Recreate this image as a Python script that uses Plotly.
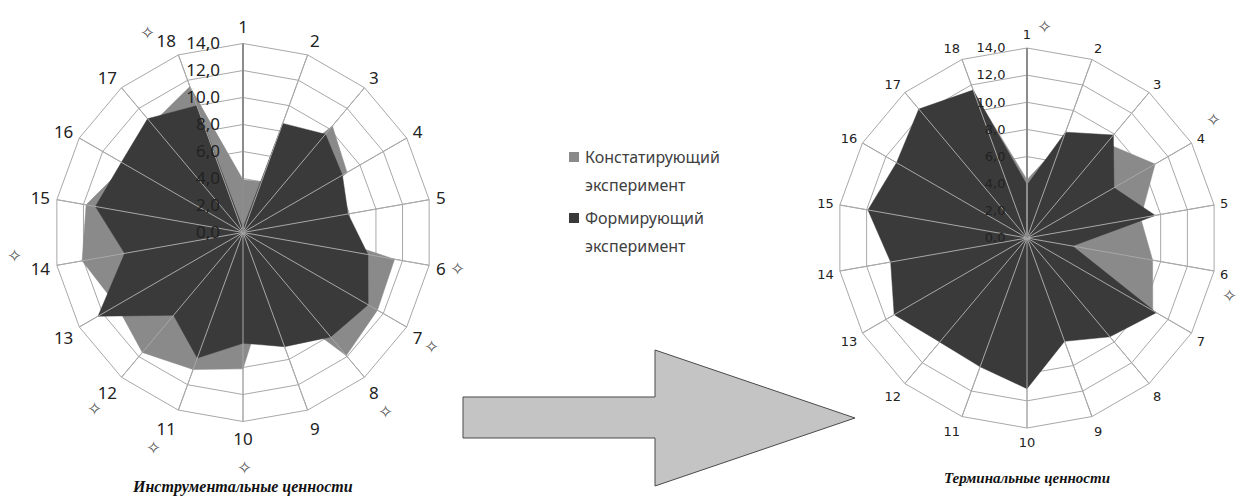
import plotly.graph_objects as go

W, H = 1238, 497

categories = [str(i) for i in range(1, 19)]
instr_const = [3.9, 4.0, 10.3, 8.9, 3.5, 11.4, 11.5, 11.9, 5.0, 10.1, 10.8, 11.6, 10.8, 12.1, 11.8, 10.0, 10.5, 11.5]
instr_form = [0.3, 8.6, 9.5, 8.5, 7.9, 9.4, 10.7, 10.1, 9.0, 8.2, 9.9, 8.0, 12.4, 8.9, 11.1, 10.4, 11.0, 10.0]
term_const = [4.3, 7.5, 9.1, 10.9, 8.5, 9.4, 10.7, 9.0, 7.5, 9.5, 9.0, 9.0, 10.0, 9.5, 11.0, 10.5, 11.5, 11.3]
term_form = [3.9, 8.3, 9.9, 7.4, 9.6, 3.4, 11.0, 9.5, 8.1, 11.1, 10.1, 10.0, 11.3, 10.2, 11.9, 11.1, 12.4, 11.6]
radial_ticks = [0, 2, 4, 6, 8, 10, 12, 14]
radial_labels = ["0,0", "2,0", "4,0", "6,0", "8,0", "10,0", "12,0", "14,0"]
series_names = ["Констатирующий", "Формирующий"]
series_sub = "эксперимент"
chart_titles = ["Инструментальные ценности", "Терминальные ценности"]

GRAY = "#8a8a8a"
DARK = "#3a3a3a"
GRID = "#a8a8a8"


def px_x(x):
    return x / W


def px_y(y):
    return 1 - y / H


fig = go.Figure()


def add_chart(subplot, const, form):
    for vals, col, name in [(const, GRAY, series_names[0]), (form, DARK, series_names[1])]:
        fig.add_trace(go.Scatterpolar(
            r=vals + [vals[0]], theta=categories + [categories[0]],
            fill="toself", fillcolor=col, mode="lines", line=dict(color=col, width=0.5),
            name=name, showlegend=False, subplot=subplot))
    # spokes drawn above the fills
    rr, tt = [], []
    for c in categories:
        rr += [0, radial_ticks[-1], None]
        tt += [c, c, None]
    fig.add_trace(go.Scatterpolar(r=rr, theta=tt, mode="lines",
                                  line=dict(color=GRID, width=1), showlegend=False,
                                  hoverinfo="skip", subplot=subplot))


add_chart("polar", instr_const, instr_form)
add_chart("polar2", term_const, term_form)


def dom(cx, cy, rad):
    return dict(x=[px_x(cx - rad), px_x(cx + rad)], y=[px_y(cy + rad), px_y(cy - rad)])


def polar_cfg(cx, cy, rad, fsize, family, tlen, rlen):
    return dict(
        domain=dom(cx, cy, rad),
        gridshape="linear",
        bgcolor="white",
        radialaxis=dict(range=[0, 14], tickvals=radial_ticks, ticktext=radial_labels,
                        angle=90, tickangle=90, side="counterclockwise",
                        showline=True, linecolor="#8c8c8c", linewidth=2,
                        gridcolor=GRID, gridwidth=1,
                        ticks="outside", ticklen=rlen, tickcolor="rgba(0,0,0,0)",
                        tickfont=dict(size=fsize, color="#222", family=family),
                        layer="above traces"),
        angularaxis=dict(direction="clockwise", rotation=90, type="category",
                         categoryorder="array", categoryarray=categories,
                         showline=True, linecolor=GRID, linewidth=1,
                         gridcolor=GRID, gridwidth=1,
                         ticks="outside", ticklen=tlen, tickcolor="rgba(0,0,0,0)",
                         tickfont=dict(size=fsize, color="#222", family=family)),
    )


fig.update_layout(
    width=W, height=H,
    margin=dict(l=0, r=0, t=0, b=0),
    paper_bgcolor="white",
    plot_bgcolor="white",
    showlegend=False,
    polar=polar_cfg(243, 232.5, 189, 17, "Noto Sans", 3, 16),
    polar2=polar_cfg(1027, 238, 190, 13, "DejaVu Sans", 3, 16),
)

shapes = []
annotations = []

# custom legend
leg = [(GRAY, 157, series_names[0]), (DARK, 218, series_names[1])]
for col, yc, name in leg:
    shapes.append(dict(type="rect", xref="paper", yref="paper",
                       x0=px_x(569), x1=px_x(579), y0=px_y(yc + 5), y1=px_y(yc - 5),
                       fillcolor=col, line=dict(width=0)))
    annotations.append(dict(x=px_x(583), y=px_y(yc), xref="paper", yref="paper",
                            text=name, showarrow=False, xanchor="left", yanchor="middle",
                            font=dict(size=16, color="#404040", family="Noto Sans")))
    annotations.append(dict(x=px_x(583), y=px_y(yc + 28), xref="paper", yref="paper",
                            text=series_sub, showarrow=False, xanchor="left", yanchor="middle",
                            font=dict(size=16, color="#404040", family="Noto Sans")))

# big arrow
pts = [(463, 397), (655, 397), (655, 350), (855, 418), (655, 486), (655, 438), (463, 438)]
path = "M " + " L ".join(f"{px_x(x):.5f},{px_y(y):.5f}" for x, y in pts) + " Z"
shapes.append(dict(type="path", xref="paper", yref="paper", path=path,
                   fillcolor="#c4c4c4", line=dict(color="#4a4a4a", width=1)))

# titles
annotations.append(dict(x=px_x(243), y=px_y(487), xref="paper", yref="paper",
                        xanchor="center", yanchor="middle",
                        text="<b><i>" + chart_titles[0] + "</i></b>", showarrow=False,
                        font=dict(size=16, color="#111", family="Liberation Serif")))
annotations.append(dict(x=px_x(1027), y=px_y(478), xref="paper", yref="paper",
                        xanchor="center", yanchor="middle",
                        text="<b><i>" + chart_titles[1] + "</i></b>", showarrow=False,
                        font=dict(size=15, color="#111", family="Liberation Serif")))

# decorative stars
stars = [(147, 33), (14, 255), (457, 268), (431, 346), (385, 411), (95, 408), (153, 447),
         (244, 467), (1044, 26), (1213, 119), (1229, 295)]
for x, y in stars:
    annotations.append(dict(x=px_x(x), y=px_y(y), xref="paper", yref="paper", text="✧",
                            xanchor="center", yanchor="middle",
                            showarrow=False, font=dict(size=18, color="#555", family="DejaVu Sans")))

fig.update_layout(shapes=shapes, annotations=annotations)
fig.write_html("out.html", config={"displayModeBar": False},
               post_script="document.body.style.margin='0';document.body.style.padding='0';")
